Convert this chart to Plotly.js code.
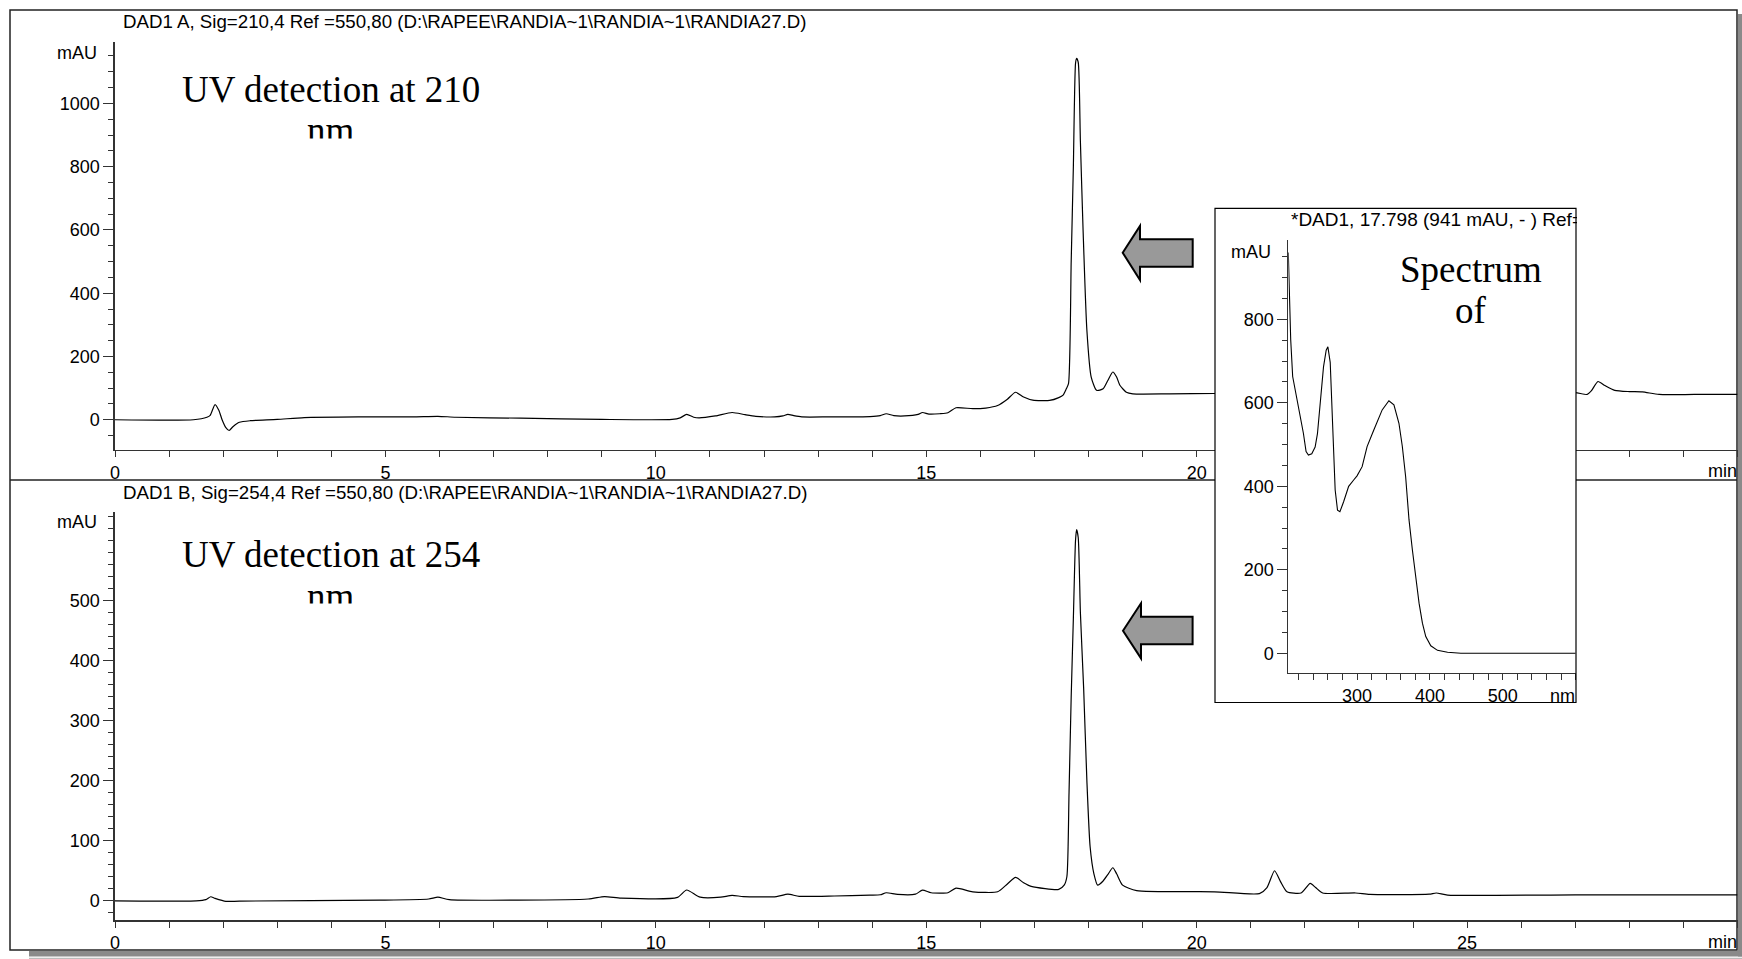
<!DOCTYPE html>
<html><head><meta charset="utf-8">
<script src="https://cdn.plot.ly/plotly-3.0.1.min.js"></script>
<style>html,body{margin:0;padding:0;background:#fff;overflow:hidden}#chart{width:1742px;height:959px}</style>
</head><body><div id="chart"></div>
<script>
// ---------- data ----------
const time210 = [0,1.45,1.7,1.76,1.85,1.92,1.98,2.05,2.11,2.18,2.3,2.5,3.0,3.5,4.5,5.5,5.97,6.3,7.5,9.0,10.3,10.45,10.57,10.7,10.8,11.1,11.41,11.65,11.85,12.2,12.35,12.44,12.55,12.7,13.2,13.96,14.15,14.26,14.4,14.6,14.85,14.93,15.05,15.25,15.4,15.55,15.86,16.1,16.32,16.5,16.65,16.8,16.97,17.28,17.45,17.53,17.59,17.63,17.68,17.72,17.76,17.78,17.81,17.85,17.9,17.97,18.05,18.15,18.27,18.36,18.45,18.52,18.58,18.7,18.82,19.5,20.33,21.2,21.44,21.67,21.95,22.12,22.35,23.0,24.5,26.5,27.0,27.22,27.3,27.42,27.55,27.73,28.0,28.24,28.55,29.2,30];
const abs210  = [0,0,8,14,48,30,0,-25,-34,-22,-8,-3,1,7,9,9,11,8,5,1,1,6,17,8,6,12,23,16,11,9,12,17,13,9,9,10,13,19,13,12,17,23,18,19,22,38,35,37,45,65,87,72,62,61,70,78,98,114,500,800,1126,1142,1130,880,599,283,135,93,98,125,151,135,109,87,82,82,83,82,125,85,83,105,84,83,82,83,86,80,92,121,108,93,89,88,80,80,80];

const time254 = [0,1.5,1.68,1.77,1.85,2.05,2.3,4.9,5.8,5.97,6.18,8.75,9.05,9.36,10.4,10.57,10.82,11.2,11.41,11.62,12.23,12.44,12.65,13.3,13.96,14.15,14.26,14.47,14.8,14.93,15.09,15.4,15.55,15.86,16.32,16.5,16.65,16.8,16.94,17.45,17.55,17.6,17.64,17.68,17.72,17.76,17.78,17.81,17.85,17.91,17.97,18.03,18.1,18.17,18.27,18.36,18.45,18.52,18.63,18.89,20.33,21.16,21.3,21.44,21.55,21.67,21.93,22.1,22.2,22.33,22.94,23.2,24.3,24.43,24.64,27.0,30];
const abs254  = [0,0,2,6.7,4,-1,-0.5,1,3,6,2,3,7,4.5,5.6,18,6,6,9,7,7,11,7.5,8,9.5,10,13.4,10.6,11,17.8,13.4,13.4,21,15,15,28,39,30,24,19,26,40,180,340,470,600,618,605,480,355,200,90,45,26,33,44,55,45,26,17,15,12,22,50,32,15,13,29,22,13,13,10.6,11,13,9.5,10,10];

const wavelength = [205.7,207.1,209,211.7,217.2,221.8,226.4,230.1,233.3,237.9,242.5,245.7,249.4,254,257.7,260,263.2,266.9,270,273.2,276.5,281.6,288.5,295.4,300,307,313.8,323,334.5,343.7,350.6,357.5,362.1,366.7,371.3,375.9,380.5,385.1,389.7,394.3,401.2,410.4,424.2,442.5,500,550,600];
const spectrum   = [960,846,751,663,615,575,527,483,475,478,494,526,598,686,726,734,697,551,391,343,339,363,400,415,425,447,495,535,583,605,595,551,496,423,320,248,184,120,72,40,18,7,2.4,0,0,0.5,0];

const timeTicks = [0,5,10,15,20,25];
const ticks210 = [0,200,400,600,800,1000];
const ticks254 = [0,100,200,300,400,500];
const specYTicks = [0,200,400,600,800];
const specXTicks = [300,400,500];

const title210 = 'DAD1 A, Sig=210,4 Ref =550,80 (D:\\RAPEE\\RANDIA~1\\RANDIA~1\\RANDIA27.D)';
const title254 = 'DAD1 B, Sig=254,4 Ref =550,80 (D:\\RAPEE\\RANDIA~1\\RANDIA~1\\RANDIA27.D)';
const titleSpec = '*DAD1, 17.798 (941 mAU, - ) Ref=';

// ---------- layout helpers ----------
const W = 1742, H = 959;
const px = x => x / W;
const py = y => 1 - y / H;
const SANS = 'Liberation Sans, Arial, sans-serif';
const SERIF = 'Liberation Serif, Times New Roman, serif';
const AX = '#333';

function xAxis(domain, range, anchor, tickvals, minorDtick, minorTick0, lw) {
  return {domain, range, anchor, showline:true, linecolor:AX, linewidth:lw, mirror:false,
    ticks:'outside', ticklen:6, tickwidth:1, tickcolor:AX, tickmode:'array', tickvals,
    minor:{ticks:'outside', ticklen:6, tickwidth:1, tickcolor:AX, dtick:minorDtick, tick0:minorTick0, showgrid:false},
    showgrid:false, zeroline:false, fixedrange:true,
    tickfont:{family:SANS, size:18, color:'#000'}};
}
function yAxis(domain, range, anchor, tickvals, minorDtick, lw) {
  return {domain, range, anchor, showline:true, linecolor:AX, linewidth:lw,
    ticks:'outside', ticklen:10, tickwidth:1, tickcolor:AX, tickmode:'array', tickvals,
    minor:{ticks:'outside', ticklen:5, tickwidth:1, tickcolor:AX, dtick:minorDtick, tick0:0, showgrid:false},
    showgrid:false, zeroline:false, fixedrange:true,
    tickfont:{family:SANS, size:18, color:'#000'}};
}

const line = {color:'#000', width:1.2, shape:'spline', smoothing:0.6};
const data = [
  {x:time210, y:abs210, xaxis:'x', yaxis:'y', mode:'lines', line, hoverinfo:'skip'},
  {x:time254, y:abs254, xaxis:'x2', yaxis:'y2', mode:'lines', line, hoverinfo:'skip'},
  {x:[], y:[], xaxis:'x3', yaxis:'y3', mode:'lines', hoverinfo:'skip'},
  {x:wavelength, y:spectrum, xaxis:'x4', yaxis:'y4', mode:'lines', line:{color:'#000', width:1.1}, hoverinfo:'skip'}
];

function ann(text, x, y, opts) {
  return Object.assign({text, x:px(x), y:py(y), xref:'paper', yref:'paper', showarrow:false,
    font:{family:SANS, size:18, color:'#000'}, xanchor:'left', yanchor:'middle'}, opts || {});
}
function arrowPath(tipX, tipY, headX, headTop, headBot, shaftTop, shaftBot, shaftRight) {
  const P = (x, y) => px(x) + ',' + py(y);
  return 'M' + P(tipX, tipY) + ' L' + P(headX, headTop) + ' L' + P(headX, shaftTop) +
    ' L' + P(shaftRight, shaftTop) + ' L' + P(shaftRight, shaftBot) + ' L' + P(headX, shaftBot) +
    ' L' + P(headX, headBot) + ' Z';
}

const layout = {
  width:W, height:H, margin:{l:0, r:0, t:0, b:0},
  paper_bgcolor:'#fff', plot_bgcolor:'#fff', showlegend:false,
  xaxis: xAxis([px(115), px(1737.5)], [0, 30], 'y', timeTicks, 1, 0, 1.6),
  yaxis: yAxis([py(449.5), py(42)], [-94, 1194], 'x', ticks210, 50, 1.6),
  xaxis2: xAxis([px(115), px(1737.5)], [0, 30], 'y2', timeTicks, 1, 0, 1.6),
  yaxis2: yAxis([py(920), py(511.7)], [-32, 648], 'x2', ticks254, 20, 1.6),
  xaxis3: {domain:[px(1215), px(1576)], range:[0,1], anchor:'y3', showline:false, showticklabels:false, ticks:'', showgrid:false, zeroline:false, fixedrange:true},
  yaxis3: {domain:[py(702.5), py(208)], range:[0,1], anchor:'x3', showline:false, showticklabels:false, ticks:'', showgrid:false, zeroline:false, fixedrange:true},
  xaxis4: xAxis([px(1288.3), px(1575.7)], [205.7, 600], 'y4', specXTicks, 20, 200, 1),
  yaxis4: yAxis([py(673.3), py(240)], [-48, 990], 'x4', specYTicks, 50, 1),
  shapes: [
    {type:'rect', xref:'paper', yref:'paper', x0:px(29), x1:px(1742), y0:py(956.5), y1:py(951), fillcolor:'#8a8a8a', line:{width:0}, layer:'below'},
    {type:'rect', xref:'paper', yref:'paper', x0:px(1738), x1:px(1742), y0:py(956.5), y1:py(14), fillcolor:'#8a8a8a', line:{width:0}, layer:'below'},
    {type:'line', xref:'paper', yref:'paper', x0:px(29), x1:px(1742), y0:py(958.3), y1:py(958.3), line:{color:'#aaa', width:1}, layer:'below'},
    {type:'rect', xref:'paper', yref:'paper', x0:px(10), x1:px(1737), y0:py(950), y1:py(10), line:{color:'#222', width:1.5}, layer:'below'},
    {type:'line', xref:'paper', yref:'paper', x0:px(10), x1:px(1737), y0:py(480), y1:py(480), line:{color:'#222', width:1.5}, layer:'below'},
    {type:'rect', xref:'paper', yref:'paper', x0:px(1215), x1:px(1576), y0:py(702.5), y1:py(208.3), line:{color:'#000', width:1.2}, layer:'above'},
    {type:'path', xref:'paper', yref:'paper', path:arrowPath(1122.7, 252.7, 1140, 226, 280, 239.3, 266.7, 1192.7), fillcolor:'#999', line:{color:'#000', width:2}, layer:'above'},
    {type:'path', xref:'paper', yref:'paper', path:arrowPath(1123, 630.7, 1141, 603.3, 658.3, 616.7, 644.3, 1192.6), fillcolor:'#999', line:{color:'#000', width:2}, layer:'above'}
  ],
  annotations: [
    ann(title210, 120.7, 21.1, {font:{family:SANS, size:18.7, color:'#000'}}),
    ann(title254, 120.7, 492, {font:{family:SANS, size:18.7, color:'#000'}}),
    ann('mAU', 99, 53.1, {xanchor:'right'}),
    ann('mAU', 99, 521.8, {xanchor:'right'}),
    ann('min', 1739, 470.8, {xanchor:'right'}),
    ann('min', 1739, 942.1, {xanchor:'right'}),
    ann(titleSpec, 1289, 219.8, {width:286, align:'left', font:{family:SANS, size:19, color:'#000'}}),
    ann('mAU', 1272.5, 252.1, {xanchor:'right'}),
    ann('nm', 1576.5, 695.5, {xanchor:'right'}),
    ann('UV detection at 210', 331, 89, {xanchor:'center', font:{family:SERIF, size:37, color:'#000'}}),
    ann('nm', 331, 108, {xanchor:'center', yanchor:'top', height:28.5, valign:'top', font:{family:SERIF, size:37, color:'#000'}}),
    ann('UV detection at 254', 331, 554, {xanchor:'center', font:{family:SERIF, size:37, color:'#000'}}),
    ann('nm', 331, 574, {xanchor:'center', yanchor:'top', height:27.5, valign:'top', font:{family:SERIF, size:37, color:'#000'}}),
    ann('Spectrum', 1471, 269, {xanchor:'center', font:{family:SERIF, size:37, color:'#000'}}),
    ann('of', 1471, 310.5, {xanchor:'center', font:{family:SERIF, size:37, color:'#000'}})
  ]
};

Plotly.newPlot('chart', data, layout, {displayModeBar:false, staticPlot:true});
</script></body></html>
